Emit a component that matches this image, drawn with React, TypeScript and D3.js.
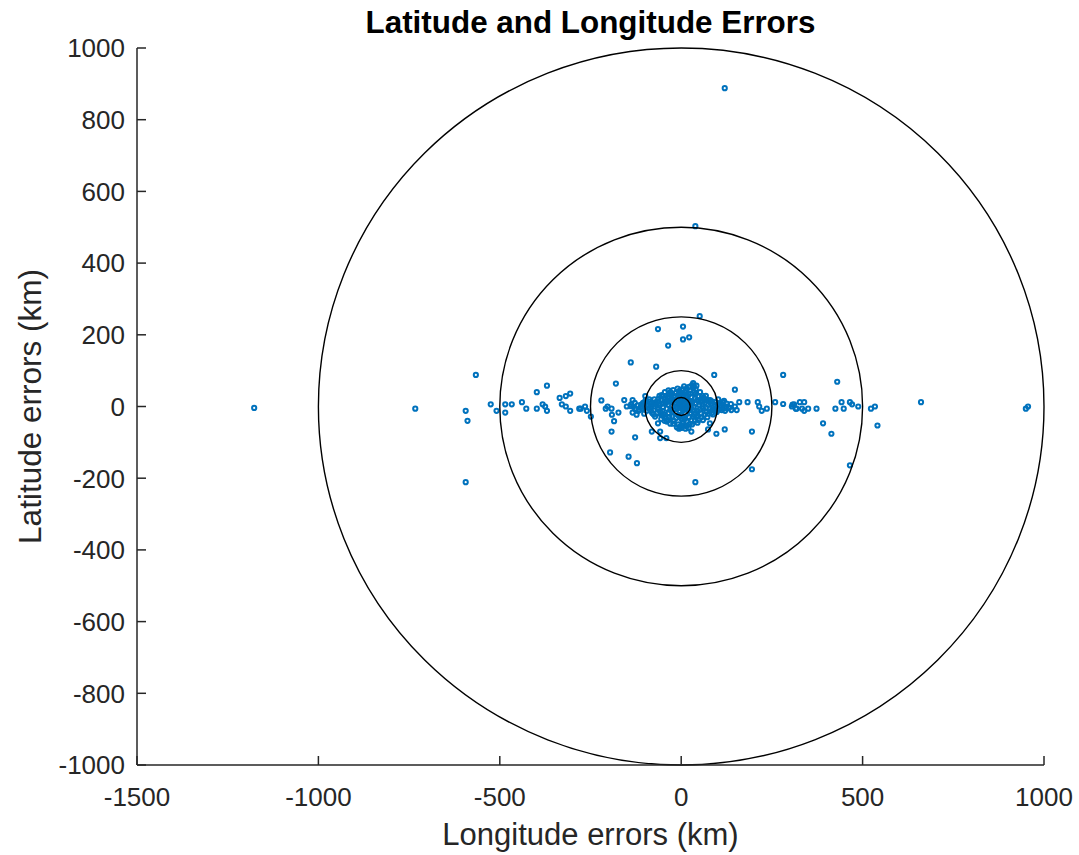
import React from "react";
import * as d3 from "d3";

// Position errors in km: [longitude error, latitude error]
const farErrors: [number, number][] = [
  [-1177, -4], [-733, -6], [-566, 88], [-594, -12], [-589, -40], [-594, -211],
  [-525, 6], [-509, -12], [-485, 6], [-485, -17], [-467, 6], [-439, 12], [-427, -6],
  [-398, 40], [-370, 58], [-398, -6], [-382, 6], [-375, 0], [-370, -12], [-335, 24],
  [-318, 29], [-306, 36], [-329, 6], [-318, 0], [-306, -12], [-281, -6], [-277, -6],
  [-265, 0], [-260, -12], [-249, -28], [-220, 17], [-208, -6], [-203, 0], [-192, -6],
  [-191, -23], [-185, -41], [-192, -70], [-173, -17], [-157, 18], [-134, 18], [-150, 0],
  [-139, 1], [-127, -6], [-118, -12], [-134, -17], [-123, -23], [-127, -86], [-180, 64],
  [51, 252], [-64, 216], [5, 223], [5, 187], [22, 193], [-36, 170], [-139, 123],
  [-69, 111], [91, 88], [33, 65], [33, 54], [5, 48], [120, 888], [39, 503],
  [-81, -70], [-58, -70], [-64, -47], [-58, -88], [-41, -88], [-196, -128], [-145, -140],
  [-122, -158], [39, -211], [11, -53], [28, -70], [79, -47], [74, -64], [97, -76],
  [120, -64], [195, -70], [195, -175], [148, 47], [112, 7], [125, 0], [137, 7], [148, 0],
  [160, 12], [153, -10], [183, 12], [211, 12], [215, 0], [222, -12], [236, -6], [259, 12],
  [281, 7], [307, 5], [318, -6], [121, -12], [281, 88], [430, 69], [305, 0], [311, 6],
  [327, 12], [339, 12], [316, -6], [333, -6], [339, -12], [350, -6], [373, -6], [425, -6],
  [442, 12], [448, -6], [465, 12], [471, 6], [488, 0], [523, -6], [534, 0], [391, -47],
  [414, -76], [541, -53], [465, -164], [661, 12], [950, -6], [956, 0], [-99, 29],
  [-53, 29], [68, 18],
];

const nearErrors: [number, number][] = [
  [0, 0], [5, 3], [-6, 4], [10, -5], [-12, -3], [15, 8], [-18, 10], [20, -12], [-4, -15],
  [3, 16], [-20, -8], [22, 4], [8, 22], [-10, 20], [12, -20], [-15, -18], [25, 15],
  [-25, 2], [28, -5], [-8, -25], [0, -22], [18, 18], [-22, 16], [6, -10], [-3, 9],
  [14, 0], [-14, 6], [2, -6], [30, 10], [-30, -10], [26, -18], [-28, 20],
  [35, 0], [40, 8], [-35, 5], [-40, -6], [45, -12], [-45, 14], [50, 4], [-50, -2],
  [38, 22], [-38, 25], [32, -28], [-32, -30], [20, 35], [-15, 38], [10, 40], [-5, 44],
  [25, 45], [15, 50], [33, 52], [40, 35], [-25, 35], [55, 15], [-55, 18], [60, -5],
  [-60, 3], [48, 28], [-48, -22], [42, -30], [-42, 30], [28, -38], [-20, -40], [5, -45],
  [-8, -50], [15, -55], [-12, -58], [0, -60], [10, -35], [-25, -28], [55, -20], [-58, -15],
  [65, 10], [-65, -8], [70, -15], [-70, 12], [75, 5], [-75, 0], [80, 18], [-80, -18],
  [62, 25], [-62, 22], [85, -10], [-85, 8], [90, 0], [-90, -5], [95, 12], [-95, -12],
  [88, -22], [-88, 20], [72, -30], [-72, -28], [60, -38], [-55, -35], [45, -45],
  [-40, -42], [30, -50], [-30, -48], [20, -60], [52, 40], [-45, 40], [35, 58], [-35, 45],
  [0, 30], [8, -30], [-60, 30], [68, 30], [100, 5], [-100, -3], [105, -8], [-105, 10],
  [110, 0], [-110, 5], [98, -15], [-98, 18], [102, 20], [-102, -20], [115, 12],
  [-115, -10], [120, -5], [-120, 3],
  [4, 8], [-8, 12], [12, 12], [-2, 24], [18, 28], [-18, 26], [28, 26], [-30, 14],
  [32, -12], [-34, -18], [22, -30], [-14, -32], [2, -36], [-4, -30], [16, -42], [-22, -48],
  [8, -52], [-2, -55], [24, -48], [38, -38], [-36, -38], [46, -26], [-46, -30], [52, -8],
  [-52, 8], [44, 18], [-44, 22], [36, 40], [-30, 40], [6, 34], [-10, 30], [14, 44],
  [26, 36], [-20, 30], [-52, -12], [58, 6], [-62, -4], [68, -4], [-68, 6], [78, -6],
  [-78, 6], [82, 8], [-82, -2], [92, -8], [-92, 6], [56, -30], [-50, -26], [64, -22],
  [-66, -18], [74, 18], [-74, 20], [58, 30], [-54, 32], [48, -38], [-46, -40], [12, -62],
  [-6, -62], [22, 55], [8, 56], [-10, 50], [40, 48], [-22, 46], [28, 12], [-26, -14],
  [18, -4], [-16, -6], [36, -22], [-34, 24], [12, 28], [-6, 36], [2, 48], [30, 60],
  [42, 58], [-40, 12], [40, -18], [56, 22], [-56, -22], [48, 14], [-48, 10], [66, 18],
  [-64, 14], [84, -18], [-84, -12], [76, -20], [-76, -22], [94, 4], [-94, 2], [108, 10],
  [-108, -6], [86, 14], [-86, 14], [100, -10], [-100, 12], [112, -10], [-112, -2],
  [125, 8], [-125, -8], [118, 16], [-128, 10], [132, -4], [-132, 0], [138, -10], [-138, 6],
];

// Reference rings (km)
const ringRadii = [25, 100, 250, 500, 1000];

const xTicks = [-1500, -1000, -500, 0, 500, 1000];
const yTicks = [-1000, -800, -600, -400, -200, 0, 200, 400, 600, 800, 1000];

const W = 1079;
const H = 855;
const left = 137;
const right = 1044;
const top = 48;
const bottom = 765;

const axisColor = "#262626";
const markerColor = "#0072BD";
const font = "'Liberation Sans', Arial, Helvetica, sans-serif";

export default function App() {
  const x = d3.scaleLinear().domain([-1500, 1000]).range([left, right]);
  const y = d3.scaleLinear().domain([-1000, 1000]).range([bottom, top]);
  const points = [...farErrors, ...nearErrors];

  return (
    <svg
      width={W}
      height={H}
      style={{ position: "absolute", left: 0, top: 0, background: "#fff" }}
      fontFamily={font}
    >
      <rect width={W} height={H} fill="#fff" />

      {/* error markers */}
      {points.map(([lon, lat], i) => (
        <circle
          key={i}
          cx={x(lon)}
          cy={y(lat)}
          r={2.1}
          fill="none"
          stroke={markerColor}
          strokeWidth={2}
        />
      ))}

      {/* rings */}
      {ringRadii.map((r) => (
        <ellipse
          key={r}
          cx={x(0)}
          cy={y(0)}
          rx={x(r) - x(0)}
          ry={y(0) - y(r)}
          fill="none"
          stroke="#000"
          strokeWidth={1.4}
        />
      ))}

      {/* y axis */}
      <line x1={left} x2={left} y1={top} y2={bottom} stroke={axisColor} strokeWidth={1.5} />
      {yTicks.map((t) => (
        <g key={t}>
          <line x1={left} x2={left + 9} y1={y(t)} y2={y(t)} stroke={axisColor} strokeWidth={1.5} />
          <text
            x={left - 12}
            y={y(t)}
            dy="0.36em"
            textAnchor="end"
            fontSize={26}
            fill={axisColor}
          >
            {t}
          </text>
        </g>
      ))}

      {/* x axis */}
      <line x1={left} x2={right} y1={bottom} y2={bottom} stroke={axisColor} strokeWidth={1.5} />
      {xTicks.map((t) => (
        <g key={t}>
          <line x1={x(t)} x2={x(t)} y1={bottom} y2={bottom - 9} stroke={axisColor} strokeWidth={1.5} />
          <text x={x(t)} y={806} textAnchor="middle" fontSize={26} fill={axisColor}>
            {t}
          </text>
        </g>
      ))}

      <text
        x={(left + right) / 2}
        y={845}
        textAnchor="middle"
        fontSize={31}
        fill={axisColor}
      >
        Longitude errors (km)
      </text>
      <text
        transform={`translate(41, ${(top + bottom) / 2}) rotate(-90)`}
        textAnchor="middle"
        fontSize={31.5}
        fill={axisColor}
      >
        Latitude errors (km)
      </text>
      <text
        x={(left + right) / 2}
        y={33}
        textAnchor="middle"
        fontSize={31.4}
        fontWeight="bold"
        fill="#000"
      >
        Latitude and Longitude Errors
      </text>
    </svg>
  );
}
